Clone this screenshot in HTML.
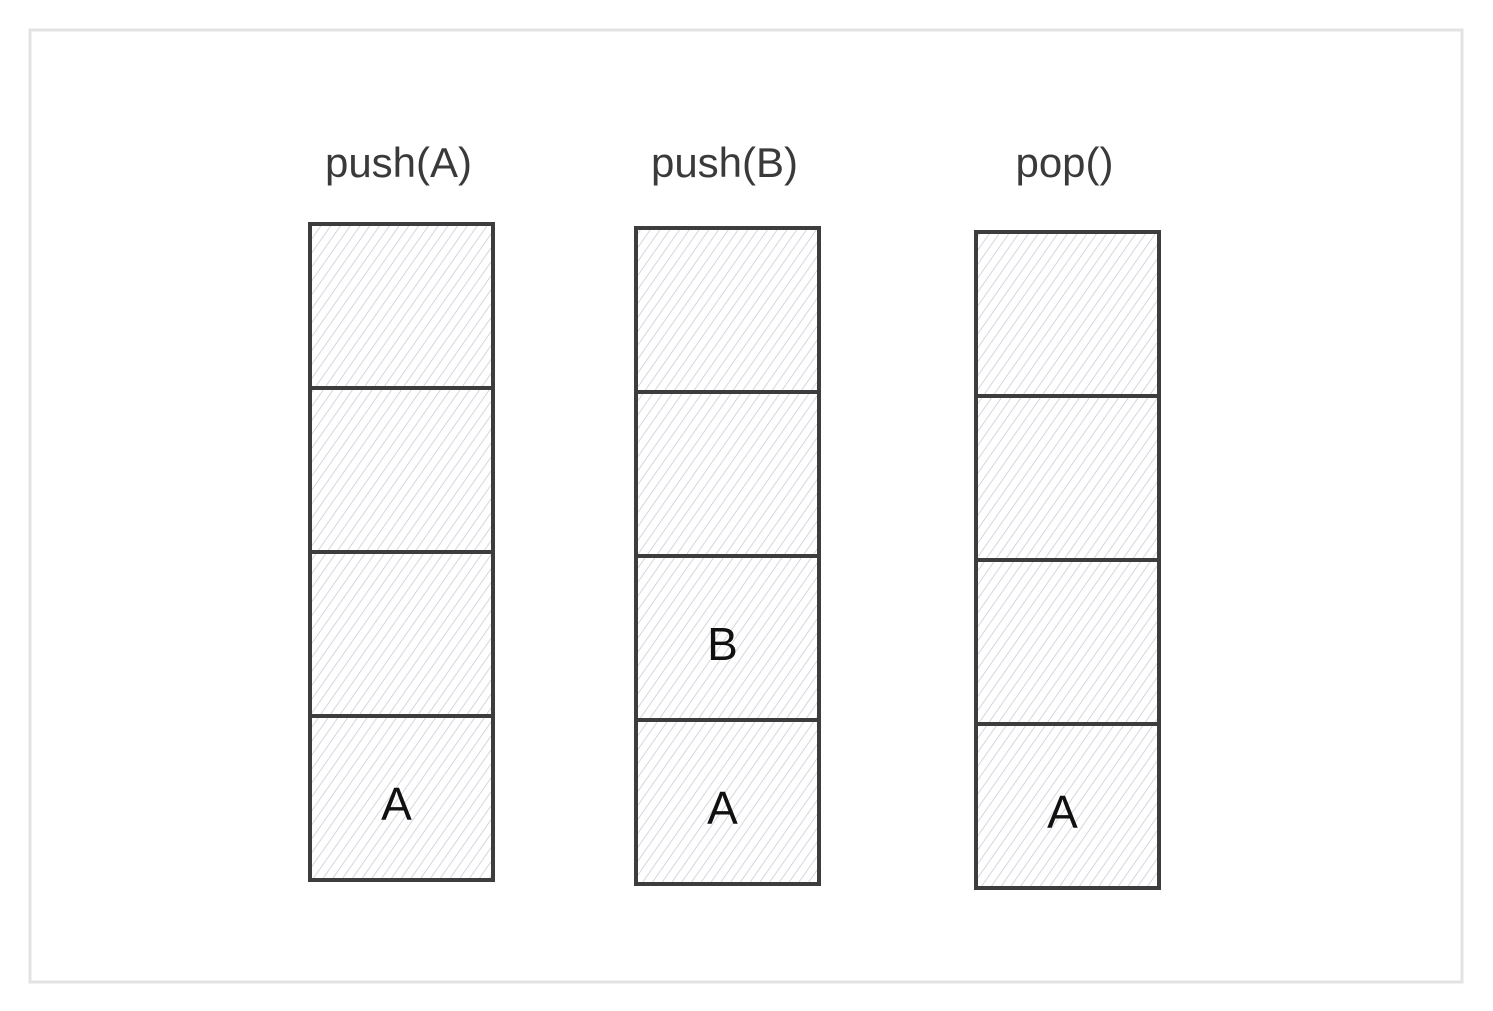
<!DOCTYPE html>
<html><head><meta charset="utf-8"><style>
html,body{margin:0;padding:0;background:#fff;width:1493px;height:1011px;overflow:hidden}
svg text{font-family:"Liberation Sans",sans-serif}
</style></head><body>
<svg id="chart" width="1493" height="1011" viewBox="0 0 1493 1011">
<defs>
<pattern id="hatch" patternUnits="userSpaceOnUse" width="8" height="8" patternTransform="rotate(35)">
<line x1="0" y1="0" x2="0" y2="8" stroke="#c9cdd5" stroke-width="1.6"/>
</pattern>
</defs>
<rect x="30" y="30" width="1432" height="952" fill="#fff" stroke="#e3e3e3" stroke-width="3"/>
<g id="cols"></g>
</svg>
<script>
const operations = ['push(A)', 'push(B)', 'pop()'];
const stackContents = [['A'], ['A', 'B'], ['A']];
const capacity = 4;

const colX = [310, 636, 976];
const colTop = [224, 228, 232];
const cellW = 183, cellH = 164;
const g = document.getElementById('cols');
const NS = 'http://www.w3.org/2000/svg';
operations.forEach((op, i) => {
  const col = document.createElementNS(NS, 'g');
  
  
  g.appendChild(col);
  const t = document.createElementNS(NS, 'text');
  
  
  t.setAttribute('x', colX[i] + cellW / 2 - 3);
  t.setAttribute('y', 177);
  t.setAttribute('text-anchor', 'middle');
  t.setAttribute('font-size', '42');
  t.setAttribute('fill', '#3a3a3a');
  t.textContent = op;
  col.appendChild(t);
  for (let s = 0; s < capacity; s++) {
    const y = colTop[i] + (capacity - 1 - s) * cellH;
    const r = document.createElementNS(NS, 'rect');
    
    
    r.setAttribute('x', colX[i]);
    r.setAttribute('y', y);
    r.setAttribute('width', cellW);
    r.setAttribute('height', cellH);
    r.setAttribute('fill', 'url(#hatch)');
    r.setAttribute('stroke', '#3d3d3d');
    r.setAttribute('stroke-width', '4');
    col.appendChild(r);
    const val = stackContents[i][s];
    if (val) {
      const v = document.createElementNS(NS, 'text');
      
      
      v.setAttribute('x', colX[i] + cellW / 2 - 5);
      v.setAttribute('y', y + cellH / 2 + 22);
      v.setAttribute('text-anchor', 'middle');
      v.setAttribute('font-size', '46');
      v.setAttribute('fill', '#111');
      v.textContent = val;
      col.appendChild(v);
    }
  }
});
</script>
</body></html>
